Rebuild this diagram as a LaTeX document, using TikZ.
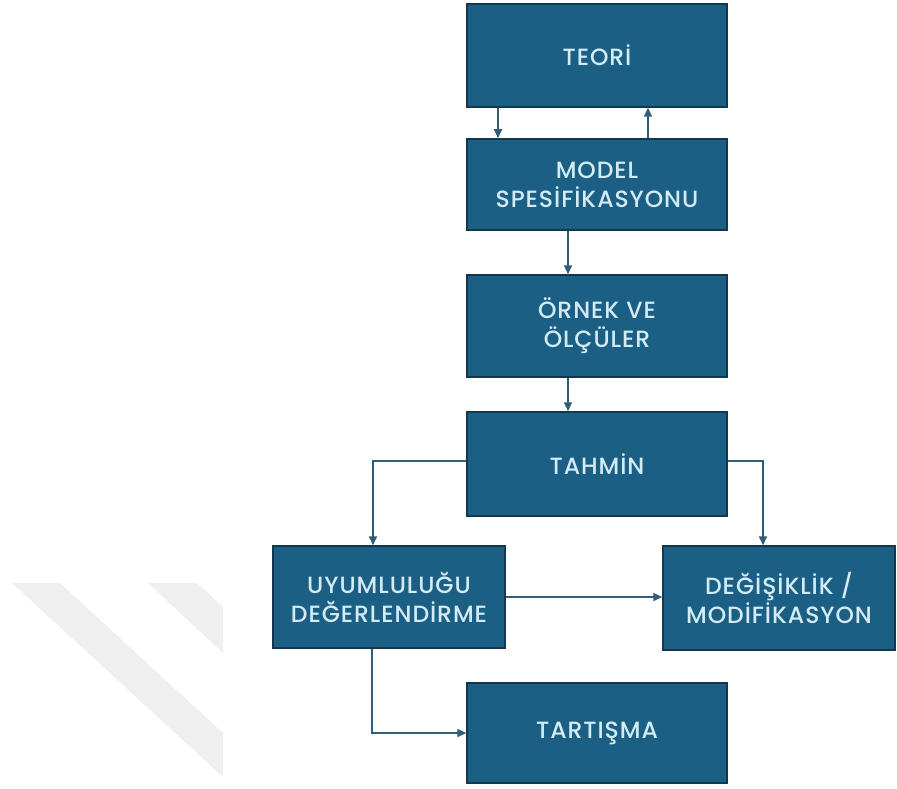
\documentclass[tikz,border=0pt]{standalone}
\usepackage{fontspec}
\setmainfont{Poppins Medium}[LetterSpace=4]
\usetikzlibrary{positioning, calc, arrows.meta}

\definecolor{boxfill}{HTML}{1B5F84}
\definecolor{boxline}{HTML}{11384D}
\definecolor{boxtext}{HTML}{D3EBF5}
\definecolor{arrline}{HTML}{2F5E77}
\definecolor{stripe}{HTML}{EFEFEF}

\begin{document}
\begin{tikzpicture}[
    x=1pt, y=-1pt,
    font=\fontsize{23.5}{29}\selectfont,
    >={Triangle[length=9pt, width=8pt]},
    stagebox/.style={rectangle, draw=boxline, line width=1.5pt, fill=boxfill, text=boxtext,
        minimum width=260pt, minimum height=102pt, align=center, inner sep=2pt},
    sidebox/.style={stagebox, minimum width=232pt},
    arr/.style={->, arrline, line width=2pt}
]

% Page frame
\useasboundingbox (0,0) rectangle (897,789);

% Watermark stripes
\fill[stripe] (12,583) -- (60,583) -- (223,733) -- (223,777) -- cycle;
\fill[stripe] (148,583) -- (197,583) -- (223,607) -- (223,653) -- cycle;

% Main column
\node[stagebox, minimum height=103pt] (teori) at (597,55.5) {TEORİ};
\node[stagebox, minimum height=91pt] (model) at (597,184.5) {MODEL\\SPESİFİKASYONU};
\node[stagebox] (ornek) at (597,326) {ÖRNEK VE\\ÖLÇÜLER};
\node[stagebox, minimum height=104pt] (tahmin) at (597,464) {TAHMİN};

% Side boxes
\node[sidebox] (uyum) at (389,597) {UYUMLULUĞU\\DEĞERLENDİRME};
\node[sidebox, minimum height=104pt] (degis) at (779,598) {DEĞİŞİKLİK /\\MODİFİKASYON};
\node[stagebox, minimum height=100pt] (tartisma) at (597,733) {TARTIŞMA};

% Connectors
\draw[arr] ([xshift=-99pt]teori.south) -- ([xshift=-99pt]model.north);
\draw[arr] ([xshift=51pt]model.north) -- ([xshift=51pt]teori.south);
\draw[arr] ([xshift=-29pt]model.south) -- ([xshift=-29pt]ornek.north);
\draw[arr] ([xshift=-29pt]ornek.south) -- ([xshift=-29pt]tahmin.north);
\draw[arr] ([yshift=3pt]tahmin.west) -| ([xshift=-16pt]uyum.north);
\draw[arr] ([yshift=3pt]tahmin.east) -| ([xshift=-16pt]degis.north);
\draw[arr] (uyum.east) -- (uyum.east -| degis.west);
\draw[arr] ([xshift=-17pt]uyum.south) |- (tartisma.west);

\end{tikzpicture}
\end{document}
